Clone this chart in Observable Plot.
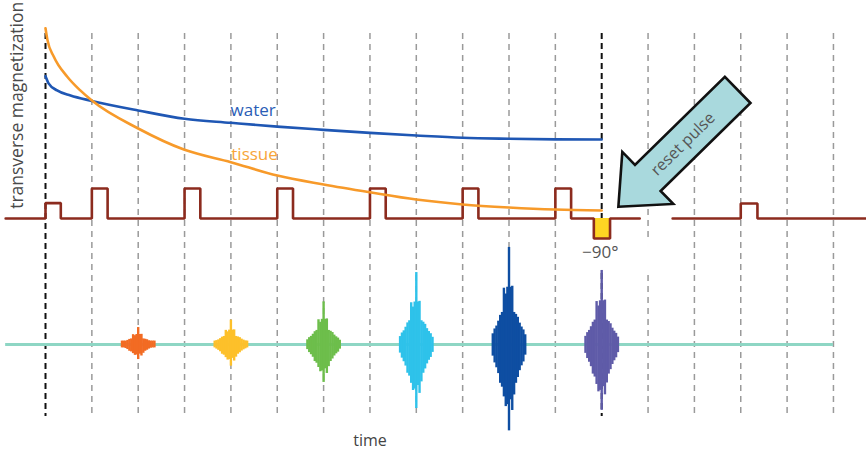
<!DOCTYPE html>
<html>
<head>
<meta charset="utf-8">
<script src="https://cdn.jsdelivr.net/npm/d3@7"></script>
<script src="https://cdn.jsdelivr.net/npm/@observablehq/plot@0.6"></script>
<style>
  html, body { margin: 0; padding: 0; background: #ffffff; }
  #chart svg { display: block; }
</style>
</head>
<body>
<div id="chart"></div>
<script>
// ---- Time grid (units of half repetition intervals) ----
const gridTimes = [1, 2, 3, 4, 5, 6, 7, 8, 9, 10, 11, 13, 14, 15, 16, 17];
const markerTimes = [0, 12];

// ---- Transverse magnetization (% of initial tissue value) ----
const waterT = [0, 0.07, 0.25, 0.54, 1, 2, 3, 4, 5, 6, 7, 8, 9, 10, 11, 12];
const waterM = [74.8, 70.9, 67.3, 64.6, 61.8, 56.8, 52.4, 50.3, 48.3, 46.6, 45.0, 43.6, 42.4, 41.9, 41.6, 41.5];
const tissueT = [0, 0.04, 0.18, 0.47, 0.75, 1, 2, 3, 4, 5, 6, 7, 8, 9, 10, 11, 12];
const tissueM = [100, 94.0, 85.0, 74.5, 67.3, 62.0, 47.3, 36.1, 29.6, 22.6, 17.9, 13.8, 10.0, 7.4, 5.8, 4.7, 4.2];

// ---- RF pulse train (start time, width, height) ----
const pulseStart  = [0, 1, 3, 5, 7, 9, 11, 11.83];
const pulseWidth  = [0.33, 0.34, 0.34, 0.34, 0.34, 0.34, 0.34, 0.35];
const pulseHeight = [8.1, 15.8, 15.8, 15.8, 15.8, 15.8, 15.8, -10.5];
const trainSpan = [-0.86, 12.82];
const pulse2Start = [15];
const pulse2Width = [0.36];
const pulse2Height = [7.9];
const train2Span = [13.53, 17.71];
const resetPulseIndex = 7;

// ---- Echo signals ----
const echoBaseline = -66.2;
const echoSpan = [-0.86, 17.0];
const echoT = [2, 4, 6, 8, 10, 12];
const echoAmp = [8.9, 12.8, 22.4, 37.8, 51.0, 38.9];
const echoColors = ["#f26b23", "#fdc02a", "#6dbe4b", "#2ec2ea", "#0e4ea2", "#5f5ba8"];
// echo waveform profile (offset from centre, relative upper / lower extents)
const echoDx   = [-0.35, -0.31, -0.27, -0.23, -0.19, -0.15, -0.11, -0.07, -0.035, 0, 0.035, 0.07, 0.11, 0.15, 0.19, 0.23, 0.27, 0.31, 0.35];
const echoUp   = [0.11, 0.16, 0.19, 0.24, 0.30, 0.33, 0.58, 0.52, 0.59, 1.00, 0.59, 0.60, 0.33, 0.31, 0.28, 0.22, 0.18, 0.15, 0.10];
const echoDown = [0.12, 0.19, 0.24, 0.30, 0.40, 0.44, 0.54, 0.64, 0.62, 0.89, 0.57, 0.68, 0.52, 0.40, 0.34, 0.27, 0.22, 0.18, 0.11];

// ---- Labels ----
const seriesLabels = ["water", "tissue"];
const seriesLabelT = [4.48, 4.51];
const seriesLabelM = [54.1, 30.5];
const seriesLabelColors = ["#2a5db6", "#f7a53a"];
const yLabel = "transverse magnetization";
const xLabel = "time";
const resetLabel = "reset pulse";
const angleLabel = "−90°";

// ---- Build tables ----
const water = waterT.map((t, i) => ({t, m: waterM[i]}));
const tissue = tissueT.map((t, i) => ({t, m: tissueM[i]}));

function pulseTrain(span, starts, widths, heights, seg) {
  const pts = [{t: span[0], m: 0, seg}];
  starts.forEach((s, i) => {
    pts.push({t: s, m: 0, seg}, {t: s, m: heights[i], seg},
             {t: s + widths[i], m: heights[i], seg}, {t: s + widths[i], m: 0, seg});
  });
  pts.push({t: span[1], m: 0, seg});
  return pts;
}
const train = pulseTrain(trainSpan, pulseStart, pulseWidth, pulseHeight, "a")
  .concat(pulseTrain(train2Span, pulse2Start, pulse2Width, pulse2Height, "b"));

const echoRules = [];
echoT.forEach((c, k) => {
  echoDx.forEach((dx, j) => {
    echoRules.push({
      t: c + dx,
      top: echoBaseline + Math.max(echoAmp[k] * echoUp[j], 1.8),
      bottom: echoBaseline - Math.max(echoAmp[k] * echoDown[j], 1.8),
      color: echoColors[k]
    });
  });
});

const labels = seriesLabels.map((s, i) => ({s, t: seriesLabelT[i], m: seriesLabelM[i], c: seriesLabelColors[i]}));
const FONT = "Open Sans, Lato, sans-serif";

// reset-pulse block arrow, anchored at its tip in data units, sized in pixels
const arrowTip = {t: 12.37, m: 5.9};
const arrowGeom = {angle: -44.4, length: 167, shaft: 18.3, head: 36.4, headLen: 41.2, textAt: 90};
function arrowMark(index, scales) {
  const x0 = scales.x(arrowTip.t), y0 = scales.y(arrowTip.m);
  const a = arrowGeom.angle * Math.PI / 180;
  const ux = Math.cos(a), uy = Math.sin(a);       // tip -> tail
  const px = -uy, py = ux;                         // perpendicular
  const P = (d, w) => [x0 + ux * d + px * w, y0 + uy * d + py * w];
  const g = arrowGeom;
  const poly = [P(0, 0), P(g.headLen, g.head), P(g.headLen, g.shaft), P(g.length, g.shaft),
                P(g.length, -g.shaft), P(g.headLen, -g.shaft), P(g.headLen, -g.head)];
  const grp = d3.create("svg:g");
  grp.append("polygon")
    .attr("points", poly.map(p => p.join(",")).join(" "))
    .attr("fill", "#a9d9dd").attr("stroke", "#111").attr("stroke-width", 2.6)
    .attr("stroke-linejoin", "miter");
  const [tx, ty] = P(g.textAt, 0);
  grp.append("text")
    .attr("transform", `translate(${tx},${ty}) rotate(${g.angle})`)
    .attr("text-anchor", "middle").attr("dy", "0.35em")
    .attr("font-family", FONT).attr("font-size", 16).attr("fill", "#555")
    .text(resetLabel);
  return grp.node();
}

const plot = Plot.plot({
  width: 866,
  height: 452,
  margin: 0,
  x: {domain: [-0.971, 17.713], axis: null},
  y: {domain: [-122.96, 114.56], axis: null},
  marks: [
    Plot.ruleX(gridTimes, {x: d => d, y1: 97.2, y2: -104, stroke: "#9a9a9a", strokeWidth: 1.5, strokeDasharray: "6,5"}),
    Plot.ruleX(markerTimes, {x: d => d, y1: 97.2, y2: -104, stroke: "#111", strokeWidth: 2, strokeDasharray: "6,4"}),
    // white backing behind the -90° label
    Plot.rect([0], {x1: 11.5, x2: 13.45, y1: -11.5, y2: -28.8, fill: "white"}),
    // echo baseline
    Plot.ruleY([echoBaseline], {x1: echoSpan[0], x2: echoSpan[1], stroke: "#8ed6c4", strokeWidth: 3}),
    Plot.ruleX(echoRules, {x: "t", y1: "bottom", y2: "top", stroke: "color", strokeWidth: 2.4}),
    // reset pulse fill
    Plot.rect([0], {
      x1: pulseStart[resetPulseIndex], x2: pulseStart[resetPulseIndex] + pulseWidth[resetPulseIndex],
      y1: pulseHeight[resetPulseIndex], y2: 0, fill: "#ffd523"
    }),
    Plot.line(train, {x: "t", y: "m", z: "seg", stroke: "#8c2b1e", strokeWidth: 2.6, strokeLinejoin: "miter"}),
    Plot.line(water, {x: "t", y: "m", stroke: "#1f57b4", strokeWidth: 2.6, curve: "monotone-x"}),
    Plot.line(tissue, {x: "t", y: "m", stroke: "#f79a2a", strokeWidth: 2.6, curve: "monotone-x"}),
    Plot.text(labels, {x: "t", y: "m", text: "s", fill: "c",
      fontFamily: FONT, fontSize: 17, lineAnchor: "bottom", textAnchor: "middle"}),
    Plot.text([angleLabel], {x: 11.97, y: -21.0, text: d => d, fill: "#555", fontFamily: FONT, fontSize: 17,
      lineAnchor: "bottom", textAnchor: "middle"}),
    Plot.text([yLabel], {x: -0.6, y: 59.5, text: d => d, rotate: -90, fill: "#4a4a4a", fontFamily: FONT, fontSize: 17.5,
      textAnchor: "middle"}),
    Plot.text([xLabel], {x: 7.0, y: -119.5, text: d => d, fill: "#444", fontFamily: FONT, fontSize: 16,
      lineAnchor: "bottom", textAnchor: "middle"}),
    arrowMark
  ]
});
document.getElementById("chart").appendChild(plot);
</script>
</body>
</html>
